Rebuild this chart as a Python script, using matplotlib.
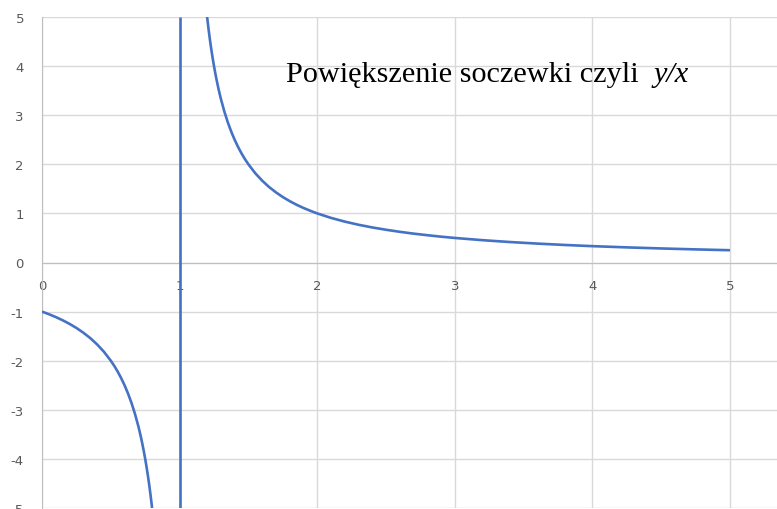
import matplotlib
matplotlib.use("Agg")
import matplotlib.pyplot as plt

plt.rcParams["axes.unicode_minus"] = False

# Left branch
x_left = [0.0, 0.05, 0.1, 0.15, 0.2, 0.25, 0.3, 0.35, 0.4, 0.45, 0.5, 0.525, 0.55, 0.575, 0.6,
          0.625, 0.65, 0.675, 0.7, 0.71, 0.72, 0.73, 0.74, 0.75, 0.76, 0.77, 0.78, 0.79, 0.8]
y_left = [-1.0, -1.053, -1.111, -1.176, -1.25, -1.333, -1.429, -1.538, -1.667, -1.818, -2.0,
          -2.105, -2.222, -2.353, -2.5, -2.667, -2.857, -3.077, -3.333, -3.448, -3.571, -3.704,
          -3.846, -4.0, -4.167, -4.348, -4.545, -4.762, -5.0]

# Right branch
x_right = [1.2, 1.21, 1.22, 1.23, 1.24, 1.25, 1.26, 1.27, 1.28, 1.29, 1.3, 1.325, 1.35, 1.375,
           1.4, 1.425, 1.45, 1.475, 1.5, 1.55, 1.6, 1.65, 1.7, 1.75, 1.8, 1.85, 1.9, 1.95, 2.0,
           2.1, 2.2, 2.3, 2.4, 2.5, 2.6, 2.7, 2.8, 2.9, 3.0, 3.2, 3.4, 3.6, 3.8, 4.0, 4.25,
           4.5, 4.75, 5.0]
y_right = [5.0, 4.762, 4.545, 4.348, 4.167, 4.0, 3.846, 3.704, 3.571, 3.448, 3.333, 3.077,
           2.857, 2.667, 2.5, 2.353, 2.222, 2.105, 2.0, 1.818, 1.667, 1.538, 1.429, 1.333, 1.25,
           1.176, 1.111, 1.053, 1.0, 0.909, 0.833, 0.769, 0.714, 0.667, 0.625, 0.588, 0.556,
           0.526, 0.5, 0.455, 0.417, 0.385, 0.357, 0.333, 0.308, 0.286, 0.267, 0.25]

# Vertical asymptote line
x_asym = [1.0, 1.0]
y_asym = [-5.0, 5.0]

x_ticks = [0, 1, 2, 3, 4, 5]
y_ticks = [-5, -4, -3, -2, -1, 0, 1, 2, 3, 4, 5]
title_text = "Powiększenie soczewki czyli  "
title_italic = "y/x"

line_color = "#4472C4"
grid_color = "#d9d9d9"
text_color = "#595959"

fig = plt.figure(figsize=(7.77, 5.10), dpi=100)
ax = fig.add_axes([42 / 777, 1 - 509 / 510, 1 - 42 / 777, (509 - 18) / 510])
ax.set_xlim(0, (777 - 42) / 137.6)
ax.set_ylim(-5, 5)

for xs, ys in [(x_left, y_left), (x_right, y_right), (x_asym, y_asym)]:
    ax.plot(xs, ys, color=line_color, lw=1.9, solid_capstyle="butt",
            solid_joinstyle="round", zorder=3)

ax.set_xticks(x_ticks)
ax.set_yticks(y_ticks)
ax.grid(True, color=grid_color, lw=1.0, zorder=0)
ax.set_axisbelow(True)

for s in ["top", "right"]:
    ax.spines[s].set_visible(False)
ax.spines["left"].set_color("#bfbfbf")
ax.spines["bottom"].set_position(("data", 0))
ax.spines["bottom"].set_color("#bfbfbf")
ax.tick_params(axis="both", length=0, labelcolor=text_color, labelsize=9.5)
ax.tick_params(axis="y", pad=13)
ax.tick_params(axis="x", pad=12)

fs = 21.8
t = ax.text(1.77, 3.69, title_text, fontsize=fs, family="Liberation Serif",
            color="black", ha="left", va="baseline")
fig.canvas.draw()
bb = t.get_window_extent()
x_end = ax.transData.inverted().transform((bb.x1, bb.y0))[0]
ax.text(x_end, 3.69, title_italic, fontsize=fs, family="Liberation Serif",
        style="italic", color="black", ha="left", va="baseline")

fig.savefig("out.png", dpi=100)
